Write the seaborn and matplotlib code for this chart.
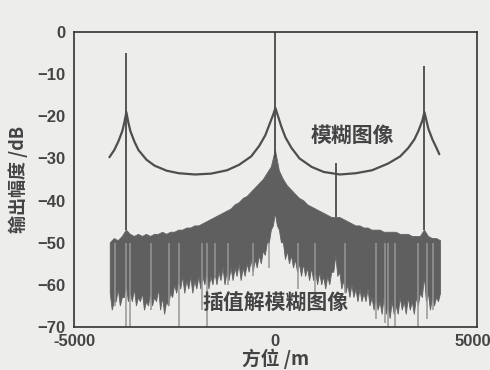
import matplotlib
matplotlib.use("Agg")
import matplotlib.pyplot as plt
import matplotlib.transforms as mtransforms
import numpy as np
import pandas as pd
import seaborn as sns

# 模糊图像 (blurred image) curve
blur_x = [-4120, -4000, -3900, -3800, -3750, -3700, -3650, -3600, -3500, -3400,
          -3200, -3000, -2700, -2400, -2000, -1600, -1200, -900, -600, -400,
          -250, -150, -50, 0, 50, 150, 250, 400, 600, 900,
          1200, 1600, 2000, 2400, 2800, 3100, 3300, 3450, 3550, 3650,
          3700, 3750, 3800, 3900, 4000, 4070]
blur_db = [-29.7, -28.0, -26.0, -23.5, -21.5, -19.0, -21.5, -23.5, -26.0, -28.0,
           -30.3, -31.7, -32.9, -33.5, -33.8, -33.6, -32.8, -31.5, -29.5, -27.0,
           -24.5, -22.0, -19.5, -18.0, -19.5, -22.5, -25.0, -27.5, -30.0, -32.0,
           -33.2, -33.8, -33.5, -32.8, -31.2, -29.5, -27.5, -25.5, -23.5, -21.0,
           -19.0, -21.0, -23.0, -25.5, -27.5, -29.0]

# 插值解模糊图像 (interpolated deblurred image): envelope of the noise band
noise_x = list(range(-4100, 4101, 100))
noise_top = [-50.0, -49.0, -49.5, -48.5, -47.0, -48.0, -48.5, -48.0, -48.5, -48.0,
             -48.5, -48.0, -48.0, -47.5, -48.0, -47.5, -47.5, -47.0, -47.0, -46.5,
             -46.5, -46.0, -46.0, -45.5, -45.0, -44.5, -44.0, -43.5, -43.0, -42.5,
             -42.0, -41.0, -40.5, -39.5, -39.0, -38.0, -37.0, -36.0, -35.0, -33.5,
             -32.0, -28.0, -33.0, -35.0, -36.5, -37.5, -38.5, -39.5, -40.0, -41.0,
             -41.5, -42.0, -42.5, -43.0, -43.5, -44.0, -44.0, -44.0, -44.5, -45.0,
             -45.5, -46.0, -46.0, -46.5, -46.5, -47.0, -47.0, -47.0, -47.5, -47.5,
             -47.5, -47.5, -48.0, -48.0, -48.0, -48.5, -48.5, -48.5, -47.0, -48.5,
             -49.0, -49.0, -49.5]
noise_bottom = [-62, -64, -61, -63, -60, -62, -61, -63, -62, -64,
                -62, -63, -61, -63, -64, -62, -60, -59, -58, -59,
                -58, -59, -58, -58, -57, -58, -57, -57, -56, -57,
                -56, -56, -55, -56, -55, -54, -54, -53, -52, -50,
                -47, -43, -47, -50, -52, -53, -54, -55, -55, -56,
                -56, -57, -57, -58, -58, -57, -53, -57, -59, -60,
                -60, -61, -61, -62, -61, -63, -63, -64, -63, -65,
                -64, -65, -63, -64, -63, -64, -63, -62, -58, -62,
                -63, -63, -62]

# dark strands hanging below the band, between envelope points
strand_x = list(range(-4050, 4051, 100))
strand_db = [-66, -64, -65, -63, -64, -64, -65, -64, -66, -65,
             -65, -64, -66, -67, -65, -63, -62, -61, -62, -61,
             -62, -61, -61, -60, -61, -60, -60, -59, -60, -59,
             -59, -58, -59, -58, -57, -57, -56, -55, -53, -50,
             -46, -46, -50, -54, -55, -56, -57, -58, -58, -59,
             -59, -60, -60, -61, -60, -57, -58, -61, -62, -63,
             -63, -64, -64, -64, -65, -66, -66, -67, -67, -68,
             -67, -67, -66, -67, -66, -67, -65, -63, -64, -66,
             -65, -64]

# deep dips below the band (lighter)
dip_x = [-3970, -3720, -3600, -3100, -2650, -2400, -1810, -1690, -1490, -1170,
         -550, -170, 570, 990, 1740, 2500, 2730, 2800, 2980, 3550, 3770, 3920]
dip_db = [-65, -70, -70, -66, -65, -70, -66, -70, -58, -60,
          -58, -56, -61, -62, -62, -68, -69, -70, -70, -70, -68, -66]

# sharp peaks of the deblurred image
peak_x = [-3700, 0, 1500, 3700]
peak_base = [-47, -30, -44, -47]
peak_top = [-5, 0, -31, -8]

bg = "#ededeb"
sns.set_style("white", {"axes.facecolor": bg, "figure.facecolor": bg})
plt.rcParams['font.family'] = ['Liberation Sans', 'Noto Sans CJK SC', 'DejaVu Sans']
cjk = ['Noto Sans CJK SC', 'DejaVu Sans']

fig = plt.figure(figsize=(4.9, 3.7), dpi=100)
ax = fig.add_axes([0.151, 0.116, 0.822, 0.7975])

# noise band outline: top envelope, then the jagged bottom (envelope and strands)
bottom = sorted(zip(noise_x + strand_x, noise_bottom + strand_db), reverse=True)
band_x = noise_x + [p[0] for p in bottom]
band_y = noise_top + [p[1] for p in bottom]
ax.vlines(dip_x, -50, dip_db, color="#969696", lw=1.1)
ax.fill(band_x, band_y, color="#5f5f5f", lw=0.6, ec="#636363")
ax.vlines(peak_x, peak_base, peak_top, color="#4a4a4a", lw=1.3)

df = pd.DataFrame({"x": blur_x, "db": blur_db})
sns.lineplot(data=df, x="x", y="db", ax=ax, color="#4e4e4e", lw=1.6,
             estimator=None, sort=False)

ax.text(1900, -24.5, "模糊图像", family=cjk, fontsize=15, weight="bold",
        color="#444444", ha="center", va="center")
ax.text(0, -64.4, "插值解模糊图像", family=cjk, fontsize=15, weight="bold",
        color="#444444", ha="center", va="center")

ax.set_xlim(-5000, 5000)
ax.set_ylim(-70, 0)
ax.set_xticks([-5000, 0, 5000])
ax.set_xticklabels(["-5000", "0", "5000"])
ax.set_yticks(np.arange(-70, 1, 10))
ax.tick_params(axis="both", direction="in", length=4, width=1.0, color="#333333",
               labelsize=12, labelcolor="#444444", pad=6)
ax.tick_params(axis="x", pad=5)
for lab in ax.get_xticklabels() + ax.get_yticklabels():
    lab.set_fontweight("bold")
# keep the right-most label inside the picture
last = ax.get_xticklabels()[-1]
last.set_transform(last.get_transform() +
                   mtransforms.ScaledTranslation(-4 / 100, 0, fig.dpi_scale_trans))
for s in ax.spines.values():
    s.set_color("#333333")
    s.set_linewidth(1.2)

ax.set_xlabel("方位 /m", family=cjk, fontsize=13.5, weight="bold", color="#444444",
              labelpad=0)
ax.set_ylabel("输出幅度 /dB", family=cjk, fontsize=13, weight="bold", color="#444444",
              labelpad=7)

fig.savefig("out.png", dpi=100, facecolor=bg)
